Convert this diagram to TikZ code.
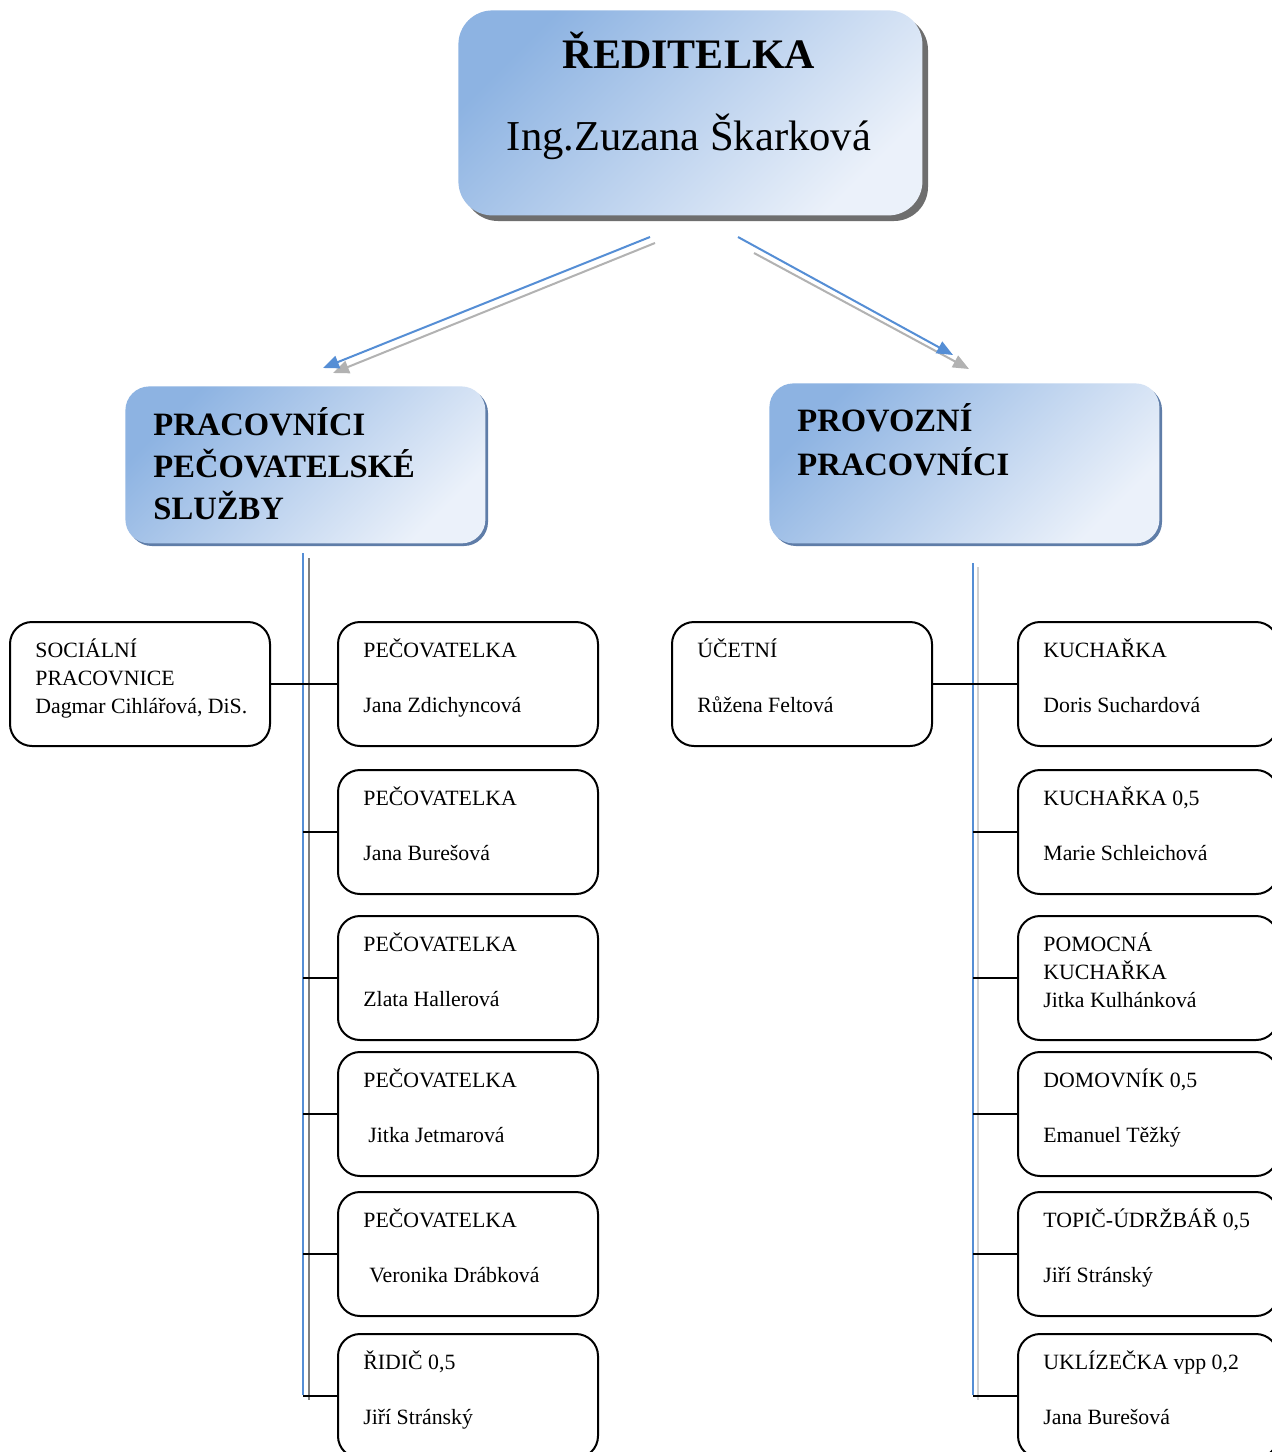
\documentclass[tikz,border=0pt]{standalone}
\usepackage{fontspec}
\setmainfont{Liberation Serif}
\usetikzlibrary{arrows.meta}
\definecolor{gA}{HTML}{8DB3E2}
\definecolor{gB}{HTML}{EBF1FA}
\definecolor{lineblue}{HTML}{558ED5}
\definecolor{hshadow}{HTML}{5F7DA8}
\definecolor{tshadow}{HTML}{6E6E6E}
\tikzset{
  topbox/.style={anchor=north west, inner sep=0pt, rounded corners=17pt,
    top color=gA, bottom color=gB, shading angle=45,
    minimum width=232pt, minimum height=102.5pt},
  hdrbox/.style={anchor=north west, inner sep=0pt, rounded corners=12pt,
    top color=gA, bottom color=gB, shading angle=45},
  orgbox/.style={anchor=north west, draw=black, line width=1pt, rounded corners=11pt,
    minimum width=130pt, minimum height=62pt, inner sep=0pt, fill=white},
  txt/.style={anchor=base west, inner sep=0pt, font=\fontsize{10.9pt}{14pt}\selectfont},
  hdrtxt/.style={anchor=base west, inner sep=0pt, font=\fontsize{16.3pt}{20pt}\selectfont\bfseries},
  conn/.style={draw=black, line width=1pt},
  blueline/.style={draw=lineblue, line width=1pt},
  bluearrow/.style={draw=lineblue, line width=1pt, -{Triangle[length=8pt,width=6.5pt]}},
  grayarrow/.style={draw=black!30, line width=1pt, -{Triangle[length=8pt,width=6.5pt]}},
}
\begin{document}
\begin{tikzpicture}[x=0.5pt,y=-0.5pt]
\useasboundingbox (0,0) rectangle (1272,1452);
\clip (0,0) rectangle (1272,1452);
\fill[white] (0,0) rectangle (1272,1452);

% ---- top box ----
\fill[tshadow, rounded corners=17pt] (464,16) rectangle (928,221);
\node[topbox] (dir) at (458,10) {};
\node[anchor=base, inner sep=0pt, font=\fontsize{21pt}{25pt}\selectfont\bfseries] (dirt) at (689,68) {ŘEDITELKA};
\node[anchor=base, inner sep=0pt, font=\fontsize{21.3pt}{25pt}\selectfont] (dirn) at (689,150) {Ing.Zuzana Škarková};

% ---- header boxes ----
\fill[hshadow, rounded corners=12pt] (128,389) rectangle (488,546);
\node[hdrbox, minimum width=180pt, minimum height=78.5pt] (pps) at (125,386) {};
\node[hdrtxt] (ppsa) at (153,435) {PRACOVNÍCI};
\node[hdrtxt] (ppsb) at (153,477) {PEČOVATELSKÉ};
\node[hdrtxt] (ppsc) at (153,519) {SLUŽBY};

\fill[hshadow, rounded corners=12pt] (772,386) rectangle (1162,546);
\node[hdrbox, minimum width=195pt, minimum height=80pt] (pp) at (769,383) {};
\node[hdrtxt] (ppa) at (797,431) {PROVOZNÍ};
\node[hdrtxt] (ppb) at (797,475) {PRACOVNÍCI};

% ---- arrows ----
\coordinate (a1s) at (650,237); \coordinate (a1e) at (323,368);
\coordinate (a1gs) at (655,243); \coordinate (a1ge) at (333,373);
\coordinate (a2s) at (738,237); \coordinate (a2e) at (953,355);
\coordinate (a2gs) at (754,253); \coordinate (a2ge) at (969,369);
\draw[grayarrow] (a1gs) -- (a1ge);
\draw[bluearrow] (a1s) -- (a1e);
\draw[grayarrow] (a2gs) -- (a2ge);
\draw[bluearrow] (a2s) -- (a2e);

% ---- vertical lines ----
\coordinate (lbt) at (303,553); \coordinate (lbb) at (303,1395);
\coordinate (lgt) at (309,558); \coordinate (lgb) at (309,1400);
\coordinate (rbt) at (973,563); \coordinate (rbb) at (973,1395);
\coordinate (rgt) at (978,567); \coordinate (rgb) at (978,1400);
\draw[draw=black!50, line width=1pt] (lgt) -- (lgb);
\draw[blueline] (lbt) -- (lbb);
\draw[draw=black!18, line width=1pt] (rgt) -- (rgb);
\draw[blueline] (rbt) -- (rbb);

% ---- left column ----
\node[orgbox] (soc) at (9,621) {};
\node[orgbox] (p1) at (337,621) {};
\node[orgbox] (p2) at (337,769) {};
\node[orgbox] (p3) at (337,915) {};
\node[orgbox] (p4) at (337,1051) {};
\node[orgbox] (p5) at (337,1191) {};
\node[orgbox] (p6) at (337,1333) {};

\draw[conn] (soc.east) -- (p1.west);
\draw[conn] (lbt |- p2.west) -- (p2.west);
\draw[conn] (lbt |- p3.west) -- (p3.west);
\draw[conn] (lbt |- p4.west) -- (p4.west);
\draw[conn] (lbt |- p5.west) -- (p5.west);
\draw[conn] (lbt |- p6.west) -- (p6.west);

\node[txt] (soca) at (35,657) {SOCIÁLNÍ};
\node[txt] (socb) at (35,685) {PRACOVNICE};
\node[txt] (socc) at (35,713) {Dagmar Cihlářová, DiS.};
\node[txt] (p1a) at (363,657) {PEČOVATELKA};
\node[txt] (p1b) at (363,712) {Jana Zdichyncová};
\node[txt] (p2a) at (363,805) {PEČOVATELKA};
\node[txt] (p2b) at (363,860) {Jana Burešová};
\node[txt] (p3a) at (363,951) {PEČOVATELKA};
\node[txt] (p3b) at (363,1006) {Zlata Hallerová};
\node[txt] (p4a) at (363,1087) {PEČOVATELKA};
\node[txt] (p4b) at (368,1142) {Jitka Jetmarová};
\node[txt] (p5a) at (363,1227) {PEČOVATELKA};
\node[txt] (p5b) at (369,1282) {Veronika Drábková};
\node[txt] (p6a) at (363,1369) {ŘIDIČ 0,5};
\node[txt] (p6b) at (363,1424) {Jiří Stránský};

% ---- right column ----
\node[orgbox] (uc) at (671,621) {};
\node[orgbox] (k1) at (1017,621) {};
\node[orgbox] (k2) at (1017,769) {};
\node[orgbox] (k3) at (1017,915) {};
\node[orgbox] (k4) at (1017,1051) {};
\node[orgbox] (k5) at (1017,1191) {};
\node[orgbox] (k6) at (1017,1333) {};

\draw[conn] (uc.east) -- (k1.west);
\draw[conn] (rbt |- k2.west) -- (k2.west);
\draw[conn] (rbt |- k3.west) -- (k3.west);
\draw[conn] (rbt |- k4.west) -- (k4.west);
\draw[conn] (rbt |- k5.west) -- (k5.west);
\draw[conn] (rbt |- k6.west) -- (k6.west);

\node[txt] (uca) at (697,657) {ÚČETNÍ};
\node[txt] (ucb) at (697,712) {Růžena Feltová};
\node[txt] (k1a) at (1043,657) {KUCHAŘKA};
\node[txt] (k1b) at (1043,712) {Doris Suchardová};
\node[txt] (k2a) at (1043,805) {KUCHAŘKA 0,5};
\node[txt] (k2b) at (1043,860) {Marie Schleichová};
\node[txt] (k3a) at (1043,951) {POMOCNÁ};
\node[txt] (k3b) at (1043,979) {KUCHAŘKA};
\node[txt] (k3c) at (1043,1007) {Jitka Kulhánková};
\node[txt] (k4a) at (1043,1087) {DOMOVNÍK 0,5};
\node[txt] (k4b) at (1043,1142) {Emanuel Těžký};
\node[txt] (k5a) at (1043,1227) {TOPIČ-ÚDRŽBÁŘ 0,5};
\node[txt] (k5b) at (1043,1282) {Jiří Stránský};
\node[txt] (k6a) at (1043,1369) {UKLÍZEČKA vpp 0,2};
\node[txt] (k6b) at (1043,1424) {Jana Burešová};
\end{tikzpicture}
\end{document}
